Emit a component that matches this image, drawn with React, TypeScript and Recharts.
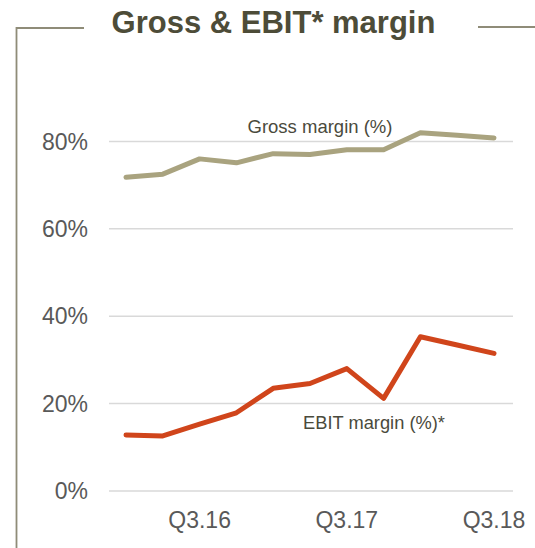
import React from "react";
import { LineChart, Line, XAxis, YAxis, CartesianGrid } from "recharts";

const quarters = ["Q1.16", "Q2.16", "Q3.16", "Q4.16", "Q1.17", "Q2.17", "Q3.17", "Q4.17", "Q1.18", "Q2.18", "Q3.18"];
const grossMargin = [71.8, 72.5, 76.0, 75.1, 77.2, 77.0, 78.1, 78.1, 82.0, 81.4, 80.8];
const ebitMargin = [12.8, 12.6, 15.3, 17.9, 23.5, 24.6, 28.0, 21.2, 35.3, 33.4, 31.5];
const yTicks = [0, 20, 40, 60, 80];
const shownQuarters = ["Q3.16", "Q3.17", "Q3.18"];

const data = quarters.map((q, i) => ({ quarter: q, gross: grossMargin[i], ebit: ebitMargin[i] }));

const FONT = '"Liberation Sans", Arial, sans-serif';
const FRAME = "#8f8c78";

export default function App() {
  return (
    <div style={{ position: "absolute", left: 0, top: 0, width: 535, height: 548, background: "#fff", fontFamily: FONT }}>
      <LineChart width={535} height={548} data={data} margin={{ top: 54, right: 22, left: 0, bottom: 0 }}>
        <CartesianGrid stroke="#d9d9d9" strokeWidth={1.5} vertical={false} horizontalValues={yTicks} />
        <XAxis
          dataKey="quarter"
          interval={0}
          height={57}
          padding={{ left: 17, right: 19 }}
          axisLine={false}
          tickLine={false}
          tickMargin={15}
          tick={{ fill: "#595959", fontSize: 23, fontFamily: FONT }}
          tickFormatter={(v) => (shownQuarters.includes(v) ? v : "")}
        />
        <YAxis
          type="number"
          domain={[0, 100]}
          ticks={yTicks}
          width={109}
          axisLine={false}
          tickLine={false}
          tickMargin={15}
          tick={{ fill: "#595959", fontSize: 23, fontFamily: FONT }}
          tickFormatter={(v) => `${v}%`}
        />
        <Line
          dataKey="gross"
          type="linear"
          stroke="#a9a37f"
          strokeWidth={5}
          strokeLinecap="round"
          strokeLinejoin="round"
          dot={false}
          activeDot={false}
          isAnimationActive={false}
        />
        <Line
          dataKey="ebit"
          type="linear"
          stroke="#d0451b"
          strokeWidth={5}
          strokeLinecap="round"
          strokeLinejoin="round"
          dot={false}
          activeDot={false}
          isAnimationActive={false}
        />
      </LineChart>
      <svg width={535} height={548} style={{ position: "absolute", left: 0, top: 0, pointerEvents: "none" }}>
        <polyline points="84,28 16.5,28 16.5,548" fill="none" stroke={FRAME} strokeWidth={1.8} />
        <line x1={478} y1={27} x2={535} y2={27} stroke={FRAME} strokeWidth={1.8} />
        <text x={273.5} y={33} textAnchor="middle" fontSize={31} fontWeight="bold" fill="#4d4c38" fontFamily={FONT}>
          Gross &amp; EBIT* margin
        </text>
        <text x={320} y={133} textAnchor="middle" fontSize={18.5} fill="#4a4a3c" fontFamily={FONT}>
          Gross margin (%)
        </text>
        <text x={374} y={429} textAnchor="middle" fontSize={18.3} fill="#4a4a3c" fontFamily={FONT}>
          EBIT margin (%)*
        </text>
      </svg>
    </div>
  );
}
